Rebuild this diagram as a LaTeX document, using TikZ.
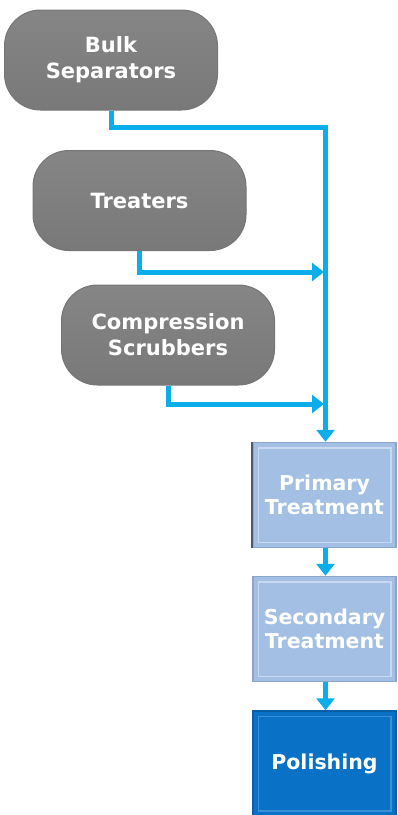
\documentclass[tikz,border=0pt]{standalone}
\usepackage{fontspec}
\setmainfont{DejaVu Sans}
\usetikzlibrary{arrows.meta,calc}
\definecolor{pillgray}{HTML}{7F7F7F}
\definecolor{pilledge}{HTML}{767676}
\definecolor{flow}{HTML}{0BAEEB}
\definecolor{lightbox}{HTML}{A3BFE4}
\definecolor{lightedge}{HTML}{8AA6CC}
\definecolor{lightinner}{HTML}{C8D9F0}
\definecolor{darkbox}{HTML}{0A72C6}
\definecolor{darkedge}{HTML}{0A5EA6}
\definecolor{darkinner}{HTML}{3B8FD6}
\tikzset{
  pill/.style={rectangle, rounded corners=36pt, minimum width=213pt, minimum height=100pt,
    top color=pillgray!95!white, bottom color=pillgray!95!black, middle color=pillgray,
    draw=pilledge, line width=1pt, text=white, align=center,
    font=\fontsize{21}{26}\selectfont\bfseries},
  stagebox/.style={rectangle, minimum width=143pt, minimum height=105pt, line width=1.5pt,
    text=white, align=center, font=\fontsize{20.5}{24}\selectfont\bfseries},
  lightstage/.style={stagebox, fill=lightbox, draw=lightedge},
  darkstage/.style={stagebox, fill=darkbox, draw=darkedge},
  flowline/.style={draw=flow, line width=5pt},
  flowarrow/.style={flowline, -{Triangle[width=18pt,length=12pt]}},
}
\begin{document}
\begin{tikzpicture}[x=1pt,y=-1pt]
\useasboundingbox (0,0) rectangle (397,815);
\node[pill] (bulk) at (111,60) {Bulk\\Separators};
\node[pill] (treat) at (139.5,200.5) {Treaters};
\node[pill] (comp) at (168,335) {Compression\\Scrubbers};

\node[lightstage] (prim) at (324.5,495) {Primary\\Treatment};
\node[lightstage] (sec) at (324.5,629) {Secondary\\Treatment};
\node[darkstage] (pol) at (324.5,763.5) {Polishing};

\draw[lightinner, line width=1.5pt] ($(prim.north west)+(6pt,-6pt)$) rectangle ($(prim.south east)+(-6pt,6pt)$);
\draw[lightinner, line width=1.5pt] ($(sec.north west)+(6pt,-6pt)$) rectangle ($(sec.south east)+(-6pt,6pt)$);
\draw[darkinner, line width=1.5pt] ($(pol.north west)+(6pt,-6pt)$) rectangle ($(pol.south east)+(-6pt,6pt)$);
\draw[lightedge!55!black, line width=2pt] (prim.north west) -- (prim.south west);

\coordinate (j1) at (325.5,127.5);
\coordinate (j2) at (324,272);
\coordinate (j3) at (324,404);

\draw[flowarrow] (bulk.south) -- (bulk.south |- j1) -- (j1) -- (j1 |- prim.north);
\draw[flowarrow] (treat.south) -- (treat.south |- j2) -- (j2);
\draw[flowarrow] (comp.south) -- (comp.south |- j3) -- (j3);
\draw[flowarrow] (prim.south -| j1) -- (j1 |- sec.north);
\draw[flowarrow] (sec.south -| j1) -- (j1 |- pol.north);
\end{tikzpicture}
\end{document}
